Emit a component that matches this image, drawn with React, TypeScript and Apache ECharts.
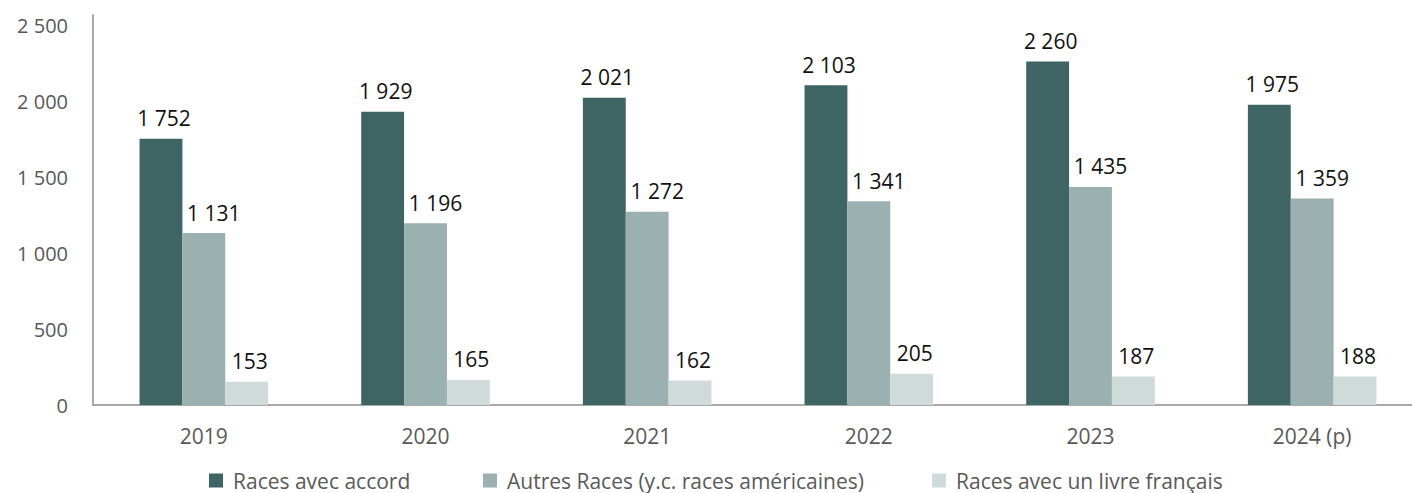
import React, { useEffect, useRef } from "react";
import * as echarts from "echarts";

const categories = ["2019", "2020", "2021", "2022", "2023", "2024 (p)"];
const seriesNames = [
  "Races avec accord",
  "Autres Races (y.c. races américaines)",
  "Races avec un livre français",
];
const racesAccord = [1752, 1929, 2021, 2103, 2260, 1975];
const autresRaces = [1131, 1196, 1272, 1341, 1435, 1359];
const livreFrancais = [153, 165, 162, 205, 187, 188];
const colors = ["#3e6464", "#9bb0b1", "#cfdadb"];
const legendLefts = [209, 483, 932];

const fmt = (v: number) => {
  const s = String(Math.round(v));
  return s.replace(/\B(?=(\d{3})+(?!\d))/g, " ");
};

const FONT = "'Open Sans', 'Noto Sans', sans-serif";

export default function App() {
  const ref = useRef<HTMLDivElement>(null);
  useEffect(() => {
    document.body.style.margin = "0";
    const chart = echarts.init(ref.current!, null, { renderer: "svg" });
    const data = [racesAccord, autresRaces, livreFrancais];
    chart.setOption({
      animation: false,
      textStyle: { fontFamily: FONT },
      grid: {
        left: 93,
        width: 1330,
        top: 15,
        height: 390,
        containLabel: false,
        outerBoundsMode: "none",
      },
      legend: seriesNames.map((n, i) => ({
        left: legendLefts[i],
        top: 470,
        padding: 0,
        itemWidth: 14,
        itemHeight: 14,
        icon: "rect",
        textStyle: { fontSize: 21, color: "#595959", fontFamily: FONT, padding: [0, 0, 0, 5] },
        data: [n],
      })),
      xAxis: {
        type: "category",
        data: categories,
        axisLine: { lineStyle: { color: "#8c8c8c", width: 1.5 } },
        axisTick: { show: false },
        axisLabel: { fontSize: 21, color: "#595959", margin: 20, fontFamily: FONT },
      },
      yAxis: {
        type: "value",
        min: 0,
        max: 2566,
        interval: 500,
        axisLine: { show: true, lineStyle: { color: "#8c8c8c", width: 1.5 } },
        axisTick: { show: false },
        splitLine: { show: false },
        axisLabel: {
          fontSize: 20,
          color: "#595959",
          margin: 25,
          fontFamily: FONT,
          formatter: (v: number) => (v % 500 === 0 ? fmt(v) : ""),
        },
      },
      series: data.map((d, i) => ({
        name: seriesNames[i],
        type: "bar",
        data: d,
        barGap: "0%",
        barCategoryGap: "42%",
        itemStyle: { color: colors[i] },
        label: {
          show: true,
          position: "top",
          distance: 10,
          offset: [i === 1 ? 10 : 3, 0],
          fontSize: 21,
          color: "#111",
          fontFamily: FONT,
          formatter: (p: any) => fmt(p.value),
        },
      })),
    });
    return () => chart.dispose();
  }, []);
  return <div ref={ref} style={{ width: 1412, height: 493 }} />;
}
